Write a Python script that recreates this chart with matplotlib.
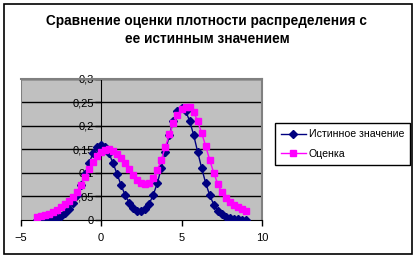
"""Excel-style chart: true density vs its estimate."""
import matplotlib
matplotlib.use("Agg")
import matplotlib.pyplot as plt
from matplotlib.patches import Rectangle

plt.rcParams["font.family"] = ["Liberation Sans", "DejaVu Sans"]

TITLE = "Сравнение оценки плотности распределения с\nее истинным значением"
LABEL_TRUE = "Истинное значение"
LABEL_EST = "Оценка"

x_vals = [
    -4.0, -3.75, -3.5, -3.25, -3.0, -2.75, -2.5, -2.25, -2.0, -1.75, -1.5, -1.25,
    -1.0, -0.75, -0.5, -0.25, 0.0, 0.25, 0.5, 0.75, 1.0, 1.25, 1.5, 1.75,
    2.0, 2.25, 2.5, 2.75, 3.0, 3.25, 3.5, 3.75, 4.0, 4.25, 4.5, 4.75,
    5.0, 5.25, 5.5, 5.75, 6.0, 6.25, 6.5, 6.75, 7.0, 7.25, 7.5, 7.75,
    8.0, 8.25, 8.5, 8.75, 9.0,
]
true_density = [
    0.000, 0.000, 0.000, 0.001, 0.002, 0.004, 0.007, 0.013, 0.022, 0.035, 0.052, 0.073,
    0.097, 0.120, 0.141, 0.155, 0.160, 0.155, 0.141, 0.120, 0.097, 0.073, 0.052, 0.036,
    0.024, 0.018, 0.018, 0.023, 0.034, 0.053, 0.078, 0.110, 0.145, 0.181, 0.211, 0.232,
    0.239, 0.232, 0.211, 0.181, 0.145, 0.110, 0.078, 0.052, 0.032, 0.019, 0.011, 0.006,
    0.003, 0.001, 0.001, 0.000, 0.000,
]
estimate = [
    0.005, 0.007, 0.009, 0.012, 0.016, 0.021, 0.027, 0.033, 0.040, 0.048, 0.059, 0.073,
    0.090, 0.107, 0.122, 0.135, 0.144, 0.149, 0.150, 0.147, 0.140, 0.131, 0.120, 0.108,
    0.095, 0.085, 0.078, 0.075, 0.078, 0.088, 0.105, 0.128, 0.155, 0.182, 0.205, 0.223,
    0.235, 0.241, 0.240, 0.230, 0.210, 0.185, 0.157, 0.127, 0.100, 0.076, 0.058, 0.046,
    0.037, 0.031, 0.026, 0.022, 0.019,
]
y_ticks = [0, 0.05, 0.1, 0.15, 0.2, 0.25, 0.3]
y_tick_labels = ["0", "0,05", "0,1", "0,15", "0,2", "0,25", "0,3"]
x_ticks = [-5, 0, 5, 10]

W, H = 418, 261
fig = plt.figure(figsize=(W / 100, H / 100), dpi=100)

# outer chart border
fig.patches.append(Rectangle((4 / W, 1 - 254 / H), 408 / W, 250 / H,
                             transform=fig.transFigure, fill=False,
                             edgecolor="black", linewidth=1.2))

ax = fig.add_axes([20.5 / W, 1 - 219.5 / H, 241.5 / W, 140.5 / H])
ax.set_facecolor("#C0C0C0")
ax.set_xlim(-5, 10)
ax.set_ylim(0, 0.3)

for y in y_ticks[1:]:
    ax.axhline(y, color="black", linewidth=1, zorder=1)

# plot-area border (gray)
for side in ["top", "right"]:
    ax.spines[side].set_color("#808080")
    ax.spines[side].set_linewidth(1.5)
ax.axvline(-5, color="#808080", linewidth=1.5, zorder=1)

# value axis crosses at x = 0
ax.spines["left"].set_position(("data", 0))
ax.spines["left"].set_color("black")
ax.spines["left"].set_zorder(2)
ax.spines["bottom"].set_color("black")

ax.plot(x_vals, true_density, color="#000080", marker="D", markersize=4.4,
        linewidth=1, label=LABEL_TRUE, zorder=3)
ax.plot(x_vals, estimate, color="#FF00FF", marker="s", markersize=4.8,
        linewidth=1, label=LABEL_EST, zorder=4)

ax.set_yticks(y_ticks)
ax.set_yticklabels(y_tick_labels)
ax.set_xticks(x_ticks)
ax.tick_params(axis="both", direction="out", length=4, width=1, labelsize=8,
               colors="black", pad=1)
ax.tick_params(axis="x", pad=6)

fig.text(0.495, 1 - 30 / H, TITLE, ha="center", va="center", fontsize=9.8,
         fontweight="bold", linespacing=1.4)

leg = fig.legend(loc="upper left", bbox_to_anchor=(275 / W, 1 - 123 / H),
                 fontsize=7.6, frameon=True, fancybox=False, edgecolor="black",
                 framealpha=1, handlelength=2.3, handletextpad=0.3,
                 borderpad=0.6, labelspacing=0.9, borderaxespad=0)
leg.get_frame().set_linewidth(1)

fig.savefig("out.png", dpi=100)
